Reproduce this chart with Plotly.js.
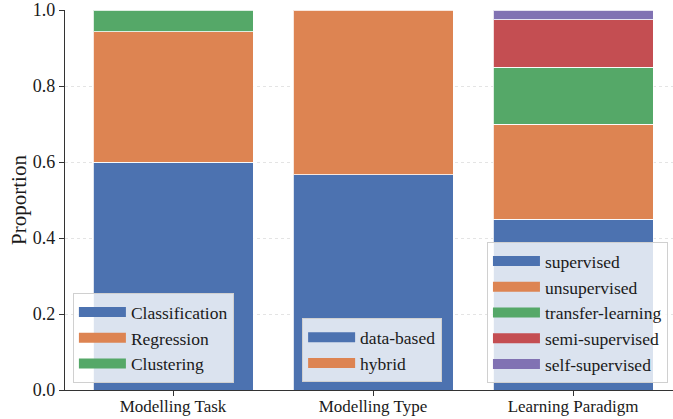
<!DOCTYPE html>
<html>
<head>
<meta charset="utf-8">
<script src="https://cdn.plot.ly/plotly-3.0.1.min.js"></script>
<style>html,body{margin:0;padding:0;background:#fff;}</style>
</head>
<body>
<div id="chart" style="width:673px;height:419px;"></div>
<script>
const categories = ["Modelling Task", "Modelling Type", "Learning Paradigm"];

// Modelling Task
const taskLabels = ["Classification", "Regression", "Clustering"];
const taskValues = [0.600, 0.343, 0.057];

// Modelling Type
const typeLabels = ["data-based", "hybrid"];
const typeValues = [0.567, 0.433];

// Learning Paradigm
const paradigmLabels = ["supervised", "unsupervised", "transfer-learning", "semi-supervised", "self-supervised"];
const paradigmValues = [0.450, 0.250, 0.150, 0.125, 0.025];

const palette = ["#4C72B0", "#DD8452", "#55A868", "#C44E52", "#8172B3"];
const FONT = "Liberation Serif, Times New Roman, serif";
const TXT = "#1a1a1a";

const traces = [];
function addGroup(catIndex, labels, values, legendId) {
  labels.forEach((lab, i) => {
    traces.push({
      type: "bar",
      x: [categories[catIndex]],
      y: [values[i]],
      name: lab,
      marker: {color: palette[i], line: {color: "rgba(255,255,255,0.8)", width: 1}},
      showlegend: false,
      hoverinfo: "name+y"
    });
    traces.push({
      type: "scatter",
      mode: "lines",
      x: [null],
      y: [null],
      name: lab,
      legend: legendId,
      line: {color: palette[i], width: 13},
      showlegend: true,
      hoverinfo: "skip"
    });
  });
}
addGroup(0, taskLabels, taskValues, "legend");
addGroup(1, typeLabels, typeValues, "legend2");
addGroup(2, paradigmLabels, paradigmValues, "legend3");

const legendBase = {
  bgcolor: "rgba(255,255,255,0.8)",
  bordercolor: "#d0d0d0",
  borderwidth: 1,
  font: {family: FONT, size: 17.5, color: TXT},
  xanchor: "left",
  yanchor: "bottom",
  itemwidth: 47,
  traceorder: "normal"
};

const layout = {
  width: 673,
  height: 419,
  margin: {l: 65, r: 0, t: 10, b: 29},
  paper_bgcolor: "#ffffff",
  plot_bgcolor: "#ffffff",
  barmode: "stack",
  bargap: 0.2,
  font: {family: FONT, color: TXT},
  xaxis: {
    type: "category",
    categoryorder: "array",
    categoryarray: categories,
    range: [-0.54, 2.5],
    showgrid: false,
    zeroline: false,
    showline: true,
    linecolor: "#333333",
    linewidth: 1.25,
    ticks: "outside",
    ticklen: 5,
    tickwidth: 1,
    tickcolor: "#333333",
    ticklabelstandoff: -5,
    tickfont: {family: FONT, size: 17, color: TXT}
  },
  yaxis: {
    range: [0, 1],
    tickvals: [0, 0.2, 0.4, 0.6, 0.8, 1.0],
    tickformat: ".1f",
    showgrid: true,
    gridcolor: "#e4e4e4",
    griddash: "dot",
    gridwidth: 1,
    zeroline: false,
    showline: true,
    linecolor: "#333333",
    linewidth: 1.25,
    ticks: "outside",
    ticklen: 5,
    tickwidth: 1,
    tickcolor: "#333333",
    tickfont: {family: FONT, size: 18, color: TXT},
    title: {text: "Proportion", font: {family: FONT, size: 21, color: TXT}, standoff: 0}
  },
  legend: Object.assign({}, legendBase, {x: 0.013, y: 0.018}),
  legend2: Object.assign({}, legendBase, {x: 0.39, y: 0.02}),
  legend3: Object.assign({}, legendBase, {x: 0.694, y: 0.018}),
  showlegend: true
};

Plotly.newPlot("chart", traces, layout, {displayModeBar: false, staticPlot: true});
</script>
</body>
</html>
